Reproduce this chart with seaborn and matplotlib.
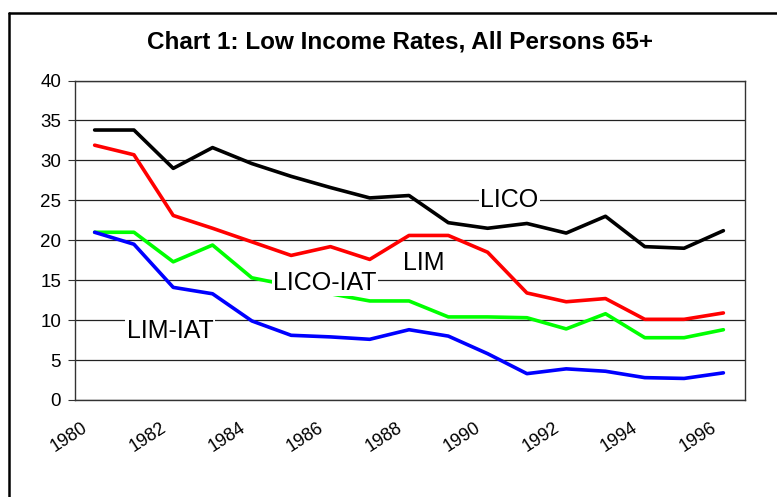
import numpy as np
import pandas as pd
import seaborn as sns
import matplotlib.pyplot as plt
from matplotlib.lines import Line2D
import matplotlib.transforms as mtransforms

# Datos
years = list(range(1980, 1997))
lico = [33.8, 33.8, 29.0, 31.6, 29.6, 28.0, 26.6, 25.3, 25.6, 22.2, 21.5, 22.1, 20.9, 23.0, 19.2, 19.0, 21.2]
lim = [31.9, 30.7, 23.1, 21.5, 19.8, 18.1, 19.2, 17.6, 20.6, 20.6, 18.5, 13.4, 12.3, 12.7, 10.1, 10.1, 10.9]
lico_iat = [21.0, 21.0, 17.3, 19.4, 15.3, 14.3, 13.3, 12.4, 12.4, 10.4, 10.4, 10.3, 8.9, 10.8, 7.8, 7.8, 8.8]
lim_iat = [21.0, 19.5, 14.1, 13.3, 9.9, 8.1, 7.9, 7.6, 8.8, 8.0, 5.8, 3.3, 3.9, 3.6, 2.8, 2.7, 3.4]

series_names = ['LICO', 'LIM', 'LICO-IAT', 'LIM-IAT']
series_colors = ['#000000', '#ff0000', '#00ff00', '#0000ff']
y_ticks = [0, 5, 10, 15, 20, 25, 30, 35, 40]

df = pd.DataFrame({
    'idx': list(range(len(years))) * 4,
    'value': lico + lim + lico_iat + lim_iat,
    'series': sum([[n] * len(years) for n in series_names], []),
})

sns.set_style('white')
plt.rcParams['font.family'] = ['Liberation Sans', 'DejaVu Sans']
plt.rcParams['text.color'] = 'black'
plt.rcParams['xtick.color'] = 'black'
plt.rcParams['ytick.color'] = 'black'
plt.rcParams['xtick.labelcolor'] = 'black'
plt.rcParams['ytick.labelcolor'] = 'black'

fig = plt.figure(figsize=(7.77, 4.97), dpi=100)
ax = fig.add_axes([75 / 777, 1 - 400 / 497, 670 / 777, 319.5 / 497])

sns.lineplot(data=df, x='idx', y='value', hue='series', hue_order=series_names,
             palette=dict(zip(series_names, series_colors)), linewidth=2.6,
             legend=False, ax=ax, zorder=3)

ax.set_xlim(-0.5, 16.55)
ax.set_ylim(0, 40)
ax.set_yticks(y_ticks)
ax.yaxis.grid(True, color='#222222', linewidth=0.9)
ax.set_axisbelow(True)
ax.set_xlabel('')
ax.set_ylabel('')

for s in ax.spines.values():
    s.set_color('#333333')
    s.set_linewidth(1.0)

# marcas del eje x entre categorias, etiquetas cada dos anios
ax.set_xticks(np.arange(-0.5, 17, 1.0), minor=True)
ax.set_xticks(range(0, len(years), 2))
ax.set_xticklabels([str(y) for y in years[::2]], rotation=33, ha='right',
                   va='top', rotation_mode='anchor', fontsize=13)
ax.tick_params(axis='x', which='major', length=0, pad=14)
ax.tick_params(axis='x', which='minor', length=5, direction='out', color='#333333')
ax.tick_params(axis='y', length=5, direction='out', color='#333333',
               labelsize=13.5, pad=5)
ax.tick_params(left=True, bottom=True)
offset = mtransforms.ScaledTranslation(-13 / 100, 0, fig.dpi_scale_trans)
for lab in ax.get_xticklabels():
    lab.set_transform(lab.get_transform() + offset)

# etiquetas de las series
box = dict(facecolor='white', edgecolor='none', pad=1)
ax.text(10.55, 25.0, 'LICO', fontsize=18, ha='center', va='center', bbox=box, zorder=5)
ax.text(8.38, 17.1, 'LIM', fontsize=18, ha='center', va='center', bbox=box, zorder=5)
ax.text(5.86, 14.7, 'LICO-IAT', fontsize=18, ha='center', va='center', bbox=box, zorder=5)
ax.text(1.92, 8.7, 'LIM-IAT', fontsize=18, ha='center', va='center', bbox=box, zorder=5)

fig.text(400 / 777, 1 - 42 / 497, 'Chart 1: Low Income Rates, All Persons 65+',
         fontsize=17.5, fontweight='bold', ha='center', va='center')

# marco exterior del grafico (solo borde superior e izquierdo visibles)
x0, y0 = 9 / 777, 1 - 13 / 497
fig.add_artist(Line2D([x0, 1.0], [y0, y0], color='black', linewidth=1.8,
                      transform=fig.transFigure))
fig.add_artist(Line2D([x0, x0], [0, y0], color='black', linewidth=1.8,
                      transform=fig.transFigure))

fig.savefig('out.png', dpi=100)
